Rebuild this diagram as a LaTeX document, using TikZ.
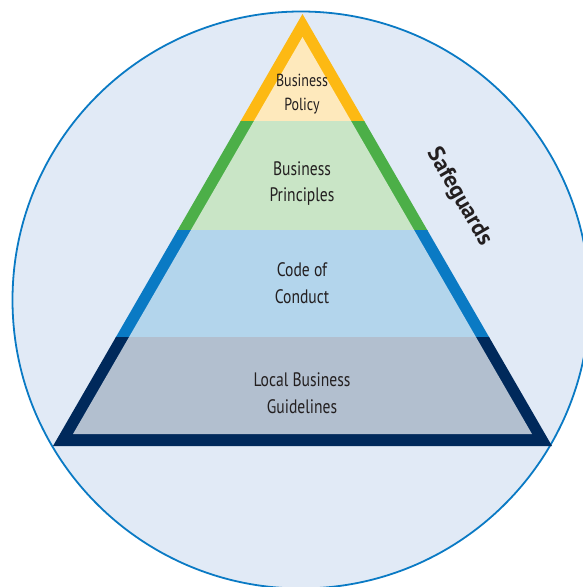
\documentclass[tikz,border=0pt]{standalone}
\usepackage{fontspec}
\setmainfont[FakeStretch=0.8]{PT Sans}
\newfontfamily\safefont{PT Sans}
\definecolor{ring}{HTML}{0A7AC4}
\definecolor{ringfill}{HTML}{E1EAF6}
\definecolor{policyedge}{HTML}{FDB913}
\definecolor{policyfill}{HTML}{FEE9BC}
\definecolor{princedge}{HTML}{4CAF48}
\definecolor{princfill}{HTML}{C9E5C6}
\definecolor{codeedge}{HTML}{0A7AC4}
\definecolor{codefill}{HTML}{B3D5EC}
\definecolor{localedge}{HTML}{00295B}
\definecolor{localfill}{HTML}{B2BFCF}
\definecolor{txt}{HTML}{231F20}
% one horizontal slice of the pyramid: top y, bottom y, edge colour, fill colour
\newcommand{\pyrband}[4]{%
  \begin{scope}
    \clip (0,#1) rectangle (583,#2);
    \fill[#3] (53,446) -- (302.5,14) -- (552,446) -- cycle;
    \fill[#4] (73,434) -- (302.5,37) -- (532,434) -- cycle;
  \end{scope}}
\begin{document}
\begin{tikzpicture}[x=1pt,y=-1pt,
  tierlabel/.style={align=center, font=\fontsize{19.5}{26.8}\selectfont, text=txt, inner sep=0pt},
  toplabel/.style={tierlabel, font=\fontsize{17.5}{23.4}\selectfont}]
  \useasboundingbox (0,0) rectangle (583,587);
  \clip (0,0) rectangle (583,587);
  \node[circle, draw=ring, fill=ringfill, line width=1.8pt,
        minimum size=577pt, inner sep=0pt] (ring) at (301,300) {};
  \pyrband{0}{121}{policyedge}{policyfill}
  \pyrband{121}{230}{princedge}{princfill}
  \pyrband{230}{337}{codeedge}{codefill}
  \pyrband{337}{450}{localedge}{localfill}
  \node[toplabel] (policy) at (302,94) {Business\\Policy};
  \node[tierlabel] (principles) at (302,183.5) {Business\\Principles};
  \node[tierlabel] (conduct) at (302,283.5) {Code of\\Conduct};
  \node[tierlabel] (guidelines) at (302,393) {Local Business\\Guidelines};
  \node[text=txt, font=\fontsize{23}{25}\safefont\bfseries, rotate=-60, inner sep=0pt]
    (safeguards) at (459,197) {Safeguards};
\end{tikzpicture}
\end{document}
